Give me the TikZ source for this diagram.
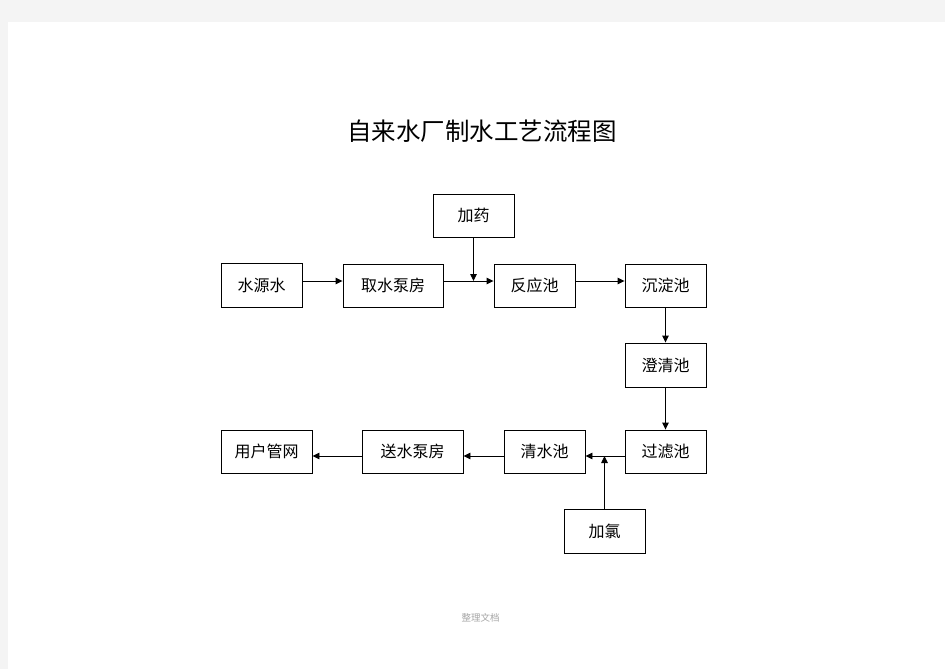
\documentclass[tikz,border=0pt]{standalone}
\usepackage{fontspec}
\newfontfamily\cjk{Noto Sans CJK SC}
\usetikzlibrary{arrows.meta}
\definecolor{pagegrey}{HTML}{F4F4F4}
\tikzset{
  box/.style={draw=black, line width=0.9pt, fill=white, inner sep=0pt, font=\cjk\fontsize{16}{17}\selectfont},
  flow/.style={draw=black, line width=0.9pt, -{Triangle[length=7pt,width=6.5pt]}},
}
\begin{document}
\begin{tikzpicture}[x=1pt,y=-1pt]
\useasboundingbox (0,0) rectangle (945,669);
\fill[pagegrey] (0,0) rectangle (945,669);
\fill[white] (8,22) rectangle (945,669);
% title
\node[font=\cjk\fontsize{24.5}{26}\selectfont, anchor=center] (title) at (482,131) {自来水厂制水工艺流程图};
% boxes
\node[box, minimum width=81pt, minimum height=43pt] (jiayao) at (473.5,215.5) {加药};
\node[box, minimum width=81pt, minimum height=44pt] (yuan) at (261.5,285) {水源水};
\node[box, minimum width=100pt, minimum height=43pt] (qushui) at (393,285.5) {取水泵房};
\node[box, minimum width=81pt, minimum height=43pt] (fanying) at (534.5,285.5) {反应池};
\node[box, minimum width=81pt, minimum height=43pt] (chendian) at (665.5,285.5) {沉淀池};
\node[box, minimum width=81pt, minimum height=44pt] (chengqing) at (665.5,365) {澄清池};
\node[box, minimum width=81pt, minimum height=43pt] (guolv) at (665.5,451.5) {过滤池};
\node[box, minimum width=81pt, minimum height=43pt] (qingshui) at (544.5,451.5) {清水池};
\node[box, minimum width=81pt, minimum height=44pt] (jialv) at (604.5,531) {加氯};
\node[box, minimum width=101pt, minimum height=43pt] (songshui) at (412.5,451.5) {送水泵房};
\node[box, minimum width=91pt, minimum height=43pt] (yonghu) at (266.5,451.5) {用户管网};
% junction points
\coordinate (j1) at (jiayao.south |- 0,281);
\coordinate (j2) at (jialv.north |- 0,456);
% connectors
\draw[flow] (yuan.east |- 0,281) -- (qushui.west |- 0,281);
\draw[flow] (qushui.east |- 0,281) -- (fanying.west |- 0,281);
\draw[flow] (jiayao.south) -- (j1);
\draw[flow] (fanying.east |- 0,281) -- (chendian.west |- 0,281);
\draw[flow] (chendian.south) -- (chengqing.north);
\draw[flow] (chengqing.south) -- (guolv.north);
\draw[flow] (guolv.west |- 0,456) -- (qingshui.east |- 0,456);
\draw[flow] (jialv.north) -- (j2);
\draw[flow] (qingshui.west |- 0,456) -- (songshui.east |- 0,456);
\draw[flow] (songshui.west |- 0,456) -- (yonghu.east |- 0,456);
% footer
\node[font=\cjk\fontsize{9.5}{10}\selectfont, text=black!35] (footer) at (480.5,618) {整理文档};
\end{tikzpicture}
\end{document}
